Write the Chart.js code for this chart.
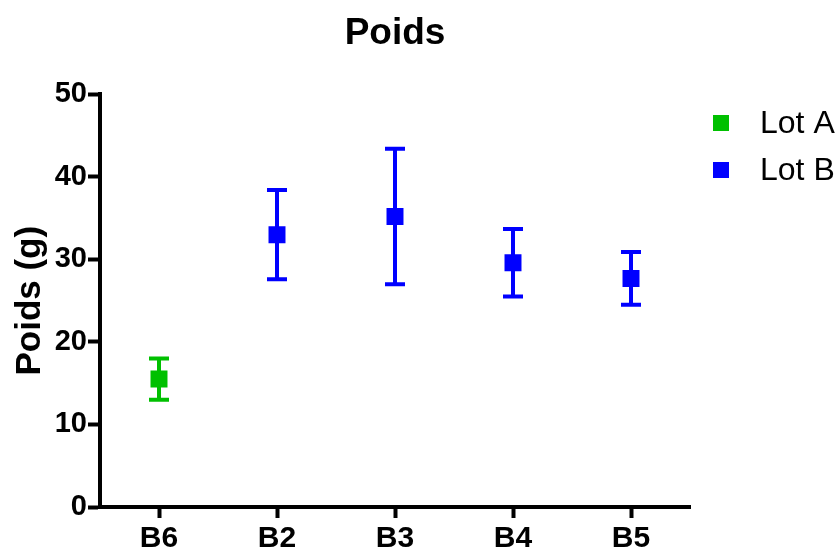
<!DOCTYPE html>
<html>
<head>
<meta charset="utf-8">
<script src="https://cdn.jsdelivr.net/npm/chart.js@4.4.1/dist/chart.umd.min.js"></script>
<style>
html,body{margin:0;padding:0;background:#fff;}
#wrap{width:835px;height:550px;position:relative;}
</style>
</head>
<body>
<div id="wrap"><canvas id="c" width="835" height="550"></canvas></div>
<script>
const categories = ['B6', 'B2', 'B3', 'B4', 'B5'];
const lotA = [15.5, null, null, null, null];
const lotAErr = [2.5, null, null, null, null];
const lotB = [null, 33.0, 35.2, 29.6, 27.7];
const lotBErr = [null, 5.4, 8.2, 4.1, 3.2];
const yTicks = [0, 10, 20, 30, 40, 50];

const green = '#00C000';
const blue = '#0000FF';
const FONT = "'Liberation Sans', Arial, Helvetica, sans-serif";

const errorBars = {
  id: 'errorBars',
  beforeDatasetsDraw(chart) {
    const ctx = chart.ctx;
    const y = chart.scales.y;
    chart.data.datasets.forEach((ds, i) => {
      const meta = chart.getDatasetMeta(i);
      ds.errors.forEach((e, j) => {
        const v = ds.data[j];
        if (v === null || e === null) return;
        const px = meta.data[j].x;
        const yTop = y.getPixelForValue(v + e);
        const yBot = y.getPixelForValue(v - e);
        ctx.save();
        ctx.strokeStyle = ds.borderColor;
        ctx.lineWidth = 4;
        ctx.lineCap = 'butt';
        ctx.beginPath();
        ctx.moveTo(px, yTop); ctx.lineTo(px, yBot);
        ctx.moveTo(px - 10, yTop); ctx.lineTo(px + 10, yTop);
        ctx.moveTo(px - 10, yBot); ctx.lineTo(px + 10, yBot);
        ctx.stroke();
        ctx.restore();
      });
    });
  }
};

const customLegend = {
  id: 'customLegend',
  afterDraw(chart) {
    const ctx = chart.ctx;
    const x0 = chart.chartArea.right + 23;
    ctx.save();
    ctx.font = "32px " + FONT;
    ctx.textBaseline = 'middle';
    ctx.textAlign = 'left';
    chart.data.datasets.forEach((ds, i) => {
      const cy = 123 + i * 47;
      ctx.fillStyle = ds.backgroundColor;
      ctx.fillRect(x0, cy - 8, 16, 16);
      ctx.fillStyle = '#000';
      ctx.fillText(ds.label, x0 + 47, cy + 1);
    });
    ctx.restore();
  }
};

new Chart(document.getElementById('c'), {
  type: 'line',
  data: {
    labels: categories,
    datasets: [
      { label: 'Lot A', data: lotA, errors: lotAErr, borderColor: green, backgroundColor: green,
        showLine: false, pointStyle: 'rect', pointRadius: 12, pointHoverRadius: 12, pointBorderWidth: 0 },
      { label: 'Lot B', data: lotB, errors: lotBErr, borderColor: blue, backgroundColor: blue,
        showLine: false, pointStyle: 'rect', pointRadius: 12, pointHoverRadius: 12, pointBorderWidth: 0 }
    ]
  },
  options: {
    responsive: false,
    animation: false,
    events: [],
    layout: { padding: { left: 0, right: 145, top: 0, bottom: 0 } },
    plugins: {
      legend: { display: false },
      tooltip: { enabled: false },
      title: {
        display: true, text: 'Poids', fullSize: false, color: '#000',
        font: { family: FONT, size: 37, weight: 'bold' },
        padding: { top: 12, bottom: 38 }
      }
    },
    scales: {
      x: {
        type: 'category',
        offset: true,
        grid: { display: true, drawOnChartArea: false, drawTicks: true, tickLength: 11, tickWidth: 4, tickColor: '#000', offset: false },
        border: { display: true, color: '#000', width: 4 },
        ticks: { color: '#000', font: { family: FONT, size: 30, weight: 'bold' }, padding: 3, maxRotation: 0 },
        afterFit(s) { s.height = 43; }
      },
      y: {
        min: 0, max: 50,
        afterBuildTicks(s) { s.ticks = yTicks.map(v => ({ value: v })); },
        grid: { display: true, drawOnChartArea: false, drawTicks: true, tickLength: 12, tickWidth: 4, tickColor: '#000' },
        border: { display: true, color: '#000', width: 4 },
        ticks: { color: '#000', font: { family: FONT, size: 29, weight: 'bold' }, padding: 1 },
        title: { display: true, text: 'Poids (g)', color: '#000', font: { family: FONT, size: 35, weight: 'bold' }, padding: { top: 9, bottom: 0 } },
        afterFit(s) { s.width = 100; }
      }
    }
  },
  plugins: [errorBars, customLegend]
});
</script>
</body>
</html>
